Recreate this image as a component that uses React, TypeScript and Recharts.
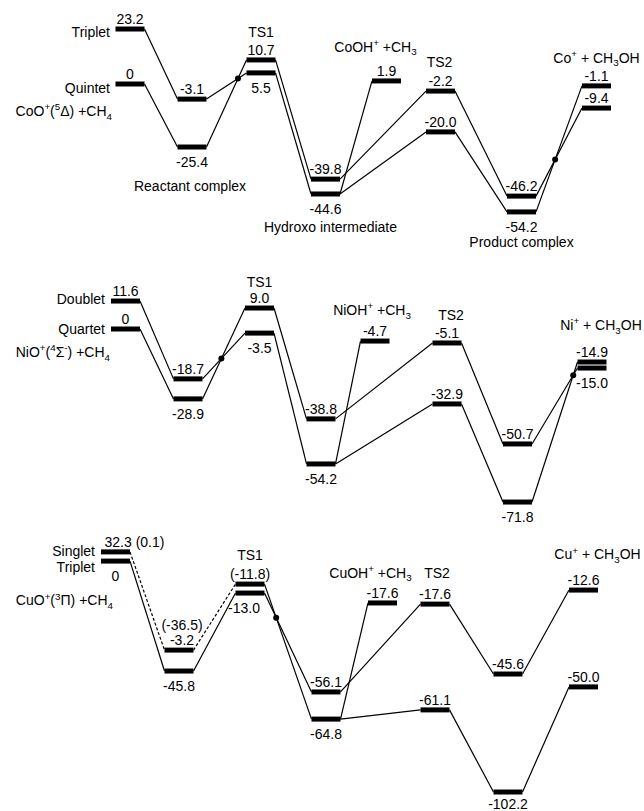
import React from 'react';
import { LineChart, Line, XAxis, YAxis, ReferenceDot } from 'recharts';

const FONT = '"Liberation Sans", Arial, Helvetica, sans-serif';
const FS = 14;
const HALF = 14.5;
const BAR_W = 5;
const LINK_W = 1.2;

type Lvl = { id: string; stage: number; level: number; label: string };
type Note = { text: string; at: string; dx: number; dy: number; anchor?: 'start' | 'middle' | 'end' };
type Tweak = { dx?: number; dy?: number; anchor?: 'start' | 'middle' | 'end' };

// ---------------- CoO+ + CH4 ----------------
const coStageX = [130, 192, 261, 325.5, 386.5, 440.5, 521.5, 596.5];
const coLevels: Lvl[] = [
  { id: 't0', stage: 0, level: 23.3, label: '23.2' },
  { id: 'q0', stage: 0, level: 0, label: '0' },
  { id: 'tRC', stage: 1, level: -6.4, label: '-3.1' },
  { id: 'qRC', stage: 1, level: -26.7, label: '-25.4' },
  { id: 'ts1a', stage: 2, level: 10.2, label: '10.7' },
  { id: 'ts1b', stage: 2, level: 4.7, label: '5.5' },
  { id: 'int1', stage: 3, level: -40.3, label: '-39.8' },
  { id: 'int2', stage: 3, level: -46.6, label: '-44.6' },
  { id: 'oh', stage: 4, level: 1.3, label: '1.9' },
  { id: 'ts2a', stage: 5, level: -3.0, label: '-2.2' },
  { id: 'ts2b', stage: 5, level: -20.3, label: '-20.0' },
  { id: 'pc1', stage: 6, level: -47.5, label: '-46.2' },
  { id: 'pc2', stage: 6, level: -54.2, label: '-54.2' },
  { id: 'p1', stage: 7, level: -0.8, label: '-1.1' },
  { id: 'p2', stage: 7, level: -10.2, label: '-9.4' },
];
const coLinks: [string, string][] = [
  ['t0', 'tRC'], ['q0', 'qRC'], ['tRC', 'ts1b'], ['qRC', 'ts1a'], ['ts1a', 'int1'], ['ts1b', 'int2'],
  ['int1', 'ts2a'], ['int2', 'ts2b'], ['int2', 'oh'], ['ts2a', 'pc1'], ['ts2b', 'pc2'], ['pc1', 'p2'], ['pc2', 'p1'],
];
const coBelow = ['qRC', 'ts1b', 'int2', 'pc2'];
const coCross: [[string, string], [string, string]][] = [
  [['tRC', 'ts1b'], ['qRC', 'ts1a']],
  [['pc1', 'p2'], ['pc2', 'p1']],
];
const coNotes: Note[] = [
  { text: 'Triplet', at: 't0', dx: -20, dy: 3, anchor: 'end' },
  { text: 'Quintet', at: 'q0', dx: -20, dy: 4, anchor: 'end' },
  { text: 'CoO^+(^5Δ) +CH_4', at: 'q0', dx: -18, dy: 27, anchor: 'end' },
  { text: 'TS1', at: 'ts1a', dx: 0, dy: -28 },
  { text: 'CoOH^+ +CH_3', at: 'oh', dx: -11, dy: -34 },
  { text: 'TS2', at: 'ts2a', dx: -1, dy: -29 },
  { text: 'Co^+ + CH_3OH', at: 'p1', dx: 0, dy: -28 },
  { text: 'Reactant complex', at: 'qRC', dx: -2, dy: 39 },
  { text: 'Hydroxo intermediate', at: 'int2', dx: 5, dy: 33 },
  { text: 'Product complex', at: 'pc2', dx: 0, dy: 30 },
];

// ---------------- NiO+ + CH4 ----------------
const niStageX = [125.5, 188, 259.5, 321, 375, 447, 517.5, 592];
const niLevels: Lvl[] = [
  { id: 'd0', stage: 0, level: 11.6, label: '11.6' },
  { id: 'q0', stage: 0, level: 0, label: '0' },
  { id: 'dRC', stage: 1, level: -20.7, label: '-18.7' },
  { id: 'qRC', stage: 1, level: -29.0, label: '-28.9' },
  { id: 'ts1a', stage: 2, level: 8.7, label: '9.0' },
  { id: 'ts1b', stage: 2, level: -1.7, label: '-3.5' },
  { id: 'int1', stage: 3, level: -37.3, label: '-38.8' },
  { id: 'int2', stage: 3, level: -56.0, label: '-54.2' },
  { id: 'oh', stage: 4, level: -5.0, label: '-4.7' },
  { id: 'ts2a', stage: 5, level: -5.8, label: '-5.1' },
  { id: 'ts2b', stage: 5, level: -31.1, label: '-32.9' },
  { id: 'pc1', stage: 6, level: -47.7, label: '-50.7' },
  { id: 'pc2', stage: 6, level: -71.8, label: '-71.8' },
  { id: 'p1', stage: 7, level: -13.7, label: '-14.9' },
  { id: 'p2', stage: 7, level: -16.2, label: '-15.0' },
];
const niLinks: [string, string][] = [
  ['d0', 'dRC'], ['q0', 'qRC'], ['dRC', 'ts1b'], ['qRC', 'ts1a'], ['ts1a', 'int1'], ['ts1b', 'int2'],
  ['int1', 'ts2a'], ['int2', 'ts2b'], ['int2', 'oh'], ['ts2a', 'pc1'], ['ts2b', 'pc2'], ['pc1', 'p2'], ['pc2', 'p1'],
];
const niBelow = ['qRC', 'ts1b', 'int2', 'pc2', 'p2'];
const niCross: [[string, string], [string, string]][] = [
  [['dRC', 'ts1b'], ['qRC', 'ts1a']],
  [['pc1', 'p2'], ['pc2', 'p1']],
];
const niNotes: Note[] = [
  { text: 'Doublet', at: 'd0', dx: -20.5, dy: -2, anchor: 'end' },
  { text: 'Quartet', at: 'q0', dx: -20.5, dy: 0, anchor: 'end' },
  { text: 'NiO^+(^4Σ^-) +CH_4', at: 'q0', dx: -15.5, dy: 23, anchor: 'end' },
  { text: 'TS1', at: 'ts1a', dx: 0, dy: -26 },
  { text: 'NiOH^+ +CH_3', at: 'oh', dx: -3, dy: -31 },
  { text: 'TS2', at: 'ts2a', dx: 4, dy: -28 },
  { text: 'Ni^+ + CH_3OH', at: 'p1', dx: 9, dy: -37 },
];

// ---------------- CuO+ + CH4 ----------------
const cuStageX = [115.5, 179, 250, 326, 382.5, 435, 508, 583.5];
const cuLevels: Lvl[] = [
  { id: 's0', stage: 0, level: 5.7, label: '32.3 (0.1)' },
  { id: 't0', stage: 0, level: 1.7, label: '0' },
  { id: 'sRC', stage: 1, level: -37.0, label: '-3.2' },
  { id: 'tRC', stage: 1, level: -46.1, label: '-45.8' },
  { id: 'ts1a', stage: 2, level: -8.3, label: '(-11.8)' },
  { id: 'ts1b', stage: 2, level: -12.2, label: '-13.0' },
  { id: 'int1', stage: 3, level: -55.2, label: '-56.1' },
  { id: 'int2', stage: 3, level: -67.0, label: '-64.8' },
  { id: 'oh', stage: 4, level: -16.5, label: '-17.6' },
  { id: 'ts2a', stage: 5, level: -17.0, label: '-17.6' },
  { id: 'ts2b', stage: 5, level: -63.0, label: '-61.1' },
  { id: 'pc1', stage: 6, level: -47.4, label: '-45.6' },
  { id: 'pc2', stage: 6, level: -98.7, label: '-102.2' },
  { id: 'p1', stage: 7, level: -10.9, label: '-12.6' },
  { id: 'p2', stage: 7, level: -53.0, label: '-50.0' },
];
const cuLinks: [string, string][] = [
  ['t0', 'tRC'], ['tRC', 'ts1b'], ['ts1a', 'int2'], ['ts1b', 'int1'],
  ['int1', 'ts2a'], ['int2', 'ts2b'], ['int2', 'oh'], ['ts2a', 'pc1'], ['ts2b', 'pc2'], ['pc1', 'p1'], ['pc2', 'p2'],
];
const cuDashed: [string, string][] = [['s0', 'sRC'], ['sRC', 'ts1a']];
const cuBelow = ['t0', 'tRC', 'ts1b', 'int2', 'pc2'];
const cuCross: [[string, string], [string, string]][] = [
  [['ts1a', 'int2'], ['ts1b', 'int1']],
];
const cuNotes: Note[] = [
  { text: 'Singlet', at: 's0', dx: -20.5, dy: -1, anchor: 'end' },
  { text: 'Triplet', at: 't0', dx: -20.5, dy: 6, anchor: 'end' },
  { text: 'CuO^+(^3Π) +CH_4', at: 't0', dx: -2.5, dy: 39, anchor: 'end' },
  { text: 'TS1', at: 'ts1a', dx: 0, dy: -29 },
  { text: 'CuOH^+ +CH_3', at: 'oh', dx: -12, dy: -30 },
  { text: 'TS2', at: 'ts2a', dx: 2, dy: -31 },
  { text: 'Cu^+ + CH_3OH', at: 'p1', dx: 14, dy: -36 },
  { text: '(-36.5)', at: 'sRC', dx: 3, dy: -25 },
];
const cuTweaks: Record<string, Tweak> = {
  s0: { dx: -11, anchor: 'start' },
  sRC: { dx: 3, dy: -10 },
  ts1b: { dx: -6 },
  pc2: { dy: 12 },
};

// ---------------- helpers ----------------
function richSpans(s: string, fs: number) {
  const parts: { t: string; mode: number }[] = [];
  let buf = '';
  for (let i = 0; i < s.length; i++) {
    const c = s[i];
    if ((c === '^' || c === '_') && i + 1 < s.length) {
      if (buf) { parts.push({ t: buf, mode: 0 }); buf = ''; }
      parts.push({ t: s[i + 1], mode: c === '^' ? 1 : -1 });
      i++;
    } else buf += c;
  }
  if (buf) parts.push({ t: buf, mode: 0 });
  let offset = 0;
  return parts.map((p, k) => {
    const target = p.mode === 1 ? -fs * 0.4 : p.mode === -1 ? fs * 0.25 : 0;
    const dy = target - offset;
    offset = target;
    return (
      <tspan key={k} dy={dy} fontSize={p.mode ? fs * 0.7 : fs}>{p.t}</tspan>
    );
  });
}

function RichText({ x, y, text, anchor = 'middle' }: { x: number; y: number; text: string; anchor?: string }) {
  return (
    <text x={x} y={y + FS * 0.36} textAnchor={anchor as any} fontFamily={FONT} fontSize={FS} fill="#000">
      {richSpans(text, FS)}
    </text>
  );
}

function intersect(p1: any, p2: any, p3: any, p4: any) {
  const d = (p1.x - p2.x) * (p3.y - p4.y) - (p1.y - p2.y) * (p3.x - p4.x);
  const t = ((p1.x - p3.x) * (p3.y - p4.y) - (p1.y - p3.y) * (p3.x - p4.x)) / d;
  return { x: p1.x + t * (p2.x - p1.x), y: p1.y + t * (p2.y - p1.y) };
}

type PanelProps = {
  height: number;
  domain: [number, number];
  stageX: number[];
  levels: Lvl[];
  links: [string, string][];
  dashed?: [string, string][];
  below: string[];
  crossings: [[string, string], [string, string]][];
  notes: Note[];
  tweaks?: Record<string, Tweak>;
};

function Panel({ height, domain, stageX, levels, links, dashed = [], below, crossings, notes, tweaks = {} }: PanelProps) {
  const byId: Record<string, Lvl> = {};
  levels.forEach((l) => { byId[l.id] = l; });
  const xOf = (l: Lvl) => stageX[l.stage];
  const seg = (a: string, b: string) => [
    { x: xOf(byId[a]) + HALF, y: byId[a].level },
    { x: xOf(byId[b]) - HALF, y: byId[b].level },
  ];
  const crossPts = crossings.map(([s1, s2]) => {
    const a = seg(s1[0], s1[1]);
    const b = seg(s2[0], s2[1]);
    return intersect(a[0], a[1], b[0], b[1]);
  });
  return (
    <LineChart width={644} height={height} margin={{ top: 0, right: 0, bottom: 0, left: 0 }}
      style={{ overflow: 'visible' }}>
      <XAxis type="number" dataKey="x" domain={[0, 644]} hide allowDataOverflow />
      <YAxis type="number" domain={domain} hide allowDataOverflow />
      {links.map(([a, b]) => (
        <Line key={`l-${a}-${b}`} data={seg(a, b)} dataKey="y" stroke="#000" strokeWidth={LINK_W}
          dot={false} activeDot={false} isAnimationActive={false} />
      ))}
      {dashed.map(([a, b]) => (
        <Line key={`d-${a}-${b}`} data={seg(a, b)} dataKey="y" stroke="#000" strokeWidth={LINK_W}
          strokeDasharray="3 2" dot={false} activeDot={false} isAnimationActive={false} />
      ))}
      {levels.map((l) => (
        <Line key={`b-${l.id}`} data={[{ x: xOf(l) - HALF, y: l.level }, { x: xOf(l) + HALF, y: l.level }]}
          dataKey="y" stroke="#000" strokeWidth={BAR_W} strokeLinecap="butt"
          dot={false} activeDot={false} isAnimationActive={false} />
      ))}
      {crossPts.map((p, i) => (
        <ReferenceDot key={`c-${i}`} x={p.x} y={p.y} r={3} fill="#000" stroke="none" />
      ))}
      {levels.map((l) => {
        const tw = tweaks[l.id] || {};
        const dy = tw.dy !== undefined ? tw.dy : below.includes(l.id) ? 15 : -10;
        return (
          <ReferenceDot key={`v-${l.id}`} x={xOf(l)} y={l.level} r={0}
            shape={(p: any) => (
              <RichText x={p.cx + (tw.dx || 0)} y={p.cy + dy} text={l.label} anchor={tw.anchor || 'middle'} />
            )} />
        );
      })}
      {notes.map((n, i) => {
        const l = byId[n.at];
        return (
          <ReferenceDot key={`n-${i}`} x={xOf(l)} y={l.level} r={0}
            shape={(p: any) => (
              <RichText x={p.cx + n.dx} y={p.cy + n.dy} text={n.text} anchor={n.anchor || 'middle'} />
            )} />
        );
      })}
    </LineChart>
  );
}

export default function App() {
  return (
    <div style={{ position: 'absolute', left: 0, top: 0, width: 644, height: 811, background: '#fff' }}>
      <style>{'.recharts-surface{overflow:visible}'}</style>
      <Panel height={250} domain={[-70.339, 35.593]} stageX={coStageX} levels={coLevels} links={coLinks}
        below={coBelow} crossings={coCross} notes={coNotes} />
      <Panel height={270} domain={[-79.253, 32.78]} stageX={niStageX} levels={niLevels} links={niLinks}
        below={niBelow} crossings={niCross} notes={niNotes} />
      <Panel height={291} domain={[-106.957, 19.565]} stageX={cuStageX} levels={cuLevels} links={cuLinks}
        dashed={cuDashed} below={cuBelow} crossings={cuCross} notes={cuNotes} tweaks={cuTweaks} />
    </div>
  );
}
